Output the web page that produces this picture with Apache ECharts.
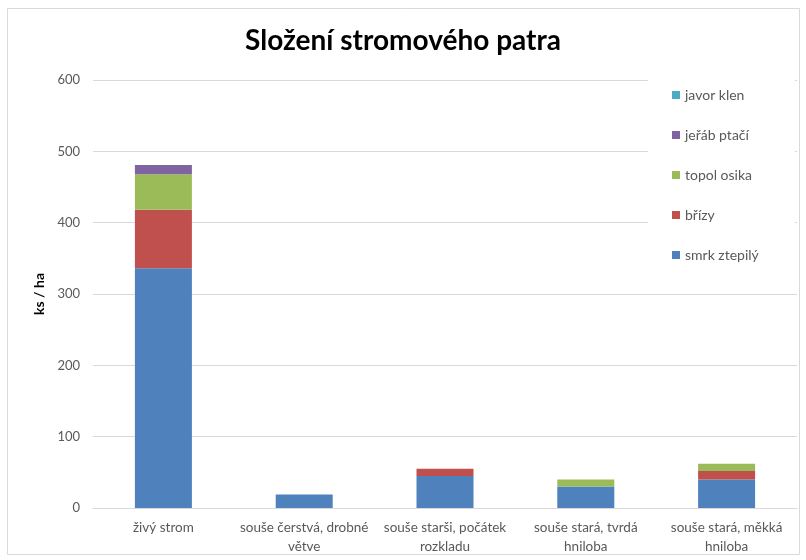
<!DOCTYPE html>
<html><head><meta charset="utf-8">
<script src="https://cdn.jsdelivr.net/npm/echarts@6/dist/echarts.min.js"></script>
<style>html,body{margin:0;padding:0;background:#fff}#c{width:806px;height:560px}</style>
</head><body><div id="c"></div>
<script>
const categories = ['živý strom', 'souše čerstvá, drobné\nvětve', 'souše starši, počátek\nrozkladu', 'souše stará, tvrdá\nhniloba', 'souše stará, měkká\nhniloba'];
const smrk = [336, 19, 45, 30, 40];
const brizy = [82, 0, 10, 0, 12];
const topol = [50, 0, 0, 10, 10];
const jerab = [13, 0, 0, 0, 0];
const javor = [0, 0, 0, 0, 0];
const yTicks = [0, 100, 200, 300, 400, 500, 600];

const font = 'Lato, "Open Sans", sans-serif';
const chart = echarts.init(document.getElementById('c'));
function s(name, data, color) {
  return { name, type: 'bar', stack: 'a', data, barWidth: 57, itemStyle: { color }, emphasis: { disabled: true } };
}
chart.setOption({
  animation: false,
  backgroundColor: '#fff',
  textStyle: { fontFamily: font },
  title: { text: 'Složení stromového patra', left: 'center', top: 22, itemGap: 0,
    textStyle: { fontSize: 28, fontWeight: 'bold', color: '#000', fontFamily: font } },
  grid: { left: 93, right: 9, top: 80, bottom: 52 },
  graphic: [{ type: 'rect', shape: { x: 7.5, y: 8.5, width: 792, height: 546 }, style: { fill: 'none', stroke: '#d9d9d9', lineWidth: 1 }, z: -1 }],
  legend: {
    orient: 'vertical', left: 648, top: 80, itemWidth: 8, itemHeight: 8, itemGap: 26,
    backgroundColor: '#fff', padding: [8, 36, 8, 24], icon: 'rect',
    data: ['javor klen', 'jeřáb ptačí', 'topol osika', 'břízy', 'smrk ztepilý'],
    textStyle: { fontSize: 14, color: '#595959', fontFamily: font }
  },
  xAxis: { type: 'category', data: categories,
    axisLine: { lineStyle: { color: '#d9d9d9' } }, axisTick: { show: false },
    axisLabel: { color: '#595959', fontSize: 13.5, lineHeight: 19, margin: 10, interval: 0 } },
  yAxis: { type: 'value', min: yTicks[0], max: yTicks[yTicks.length - 1], interval: 100,
    name: 'ks / ha', nameLocation: 'middle', nameGap: 44,
    nameTextStyle: { fontSize: 14, fontWeight: 'bold', color: '#000' },
    axisLabel: { color: '#595959', fontSize: 13, margin: 13 },
    splitLine: { lineStyle: { color: '#d9d9d9' } } },
  series: [
    s('smrk ztepilý', smrk, '#4F81BD'),
    s('břízy', brizy, '#C0504D'),
    s('topol osika', topol, '#9BBB59'),
    s('jeřáb ptačí', jerab, '#8064A2'),
    s('javor klen', javor, '#4BACC6')
  ]
});
</script></body></html>
